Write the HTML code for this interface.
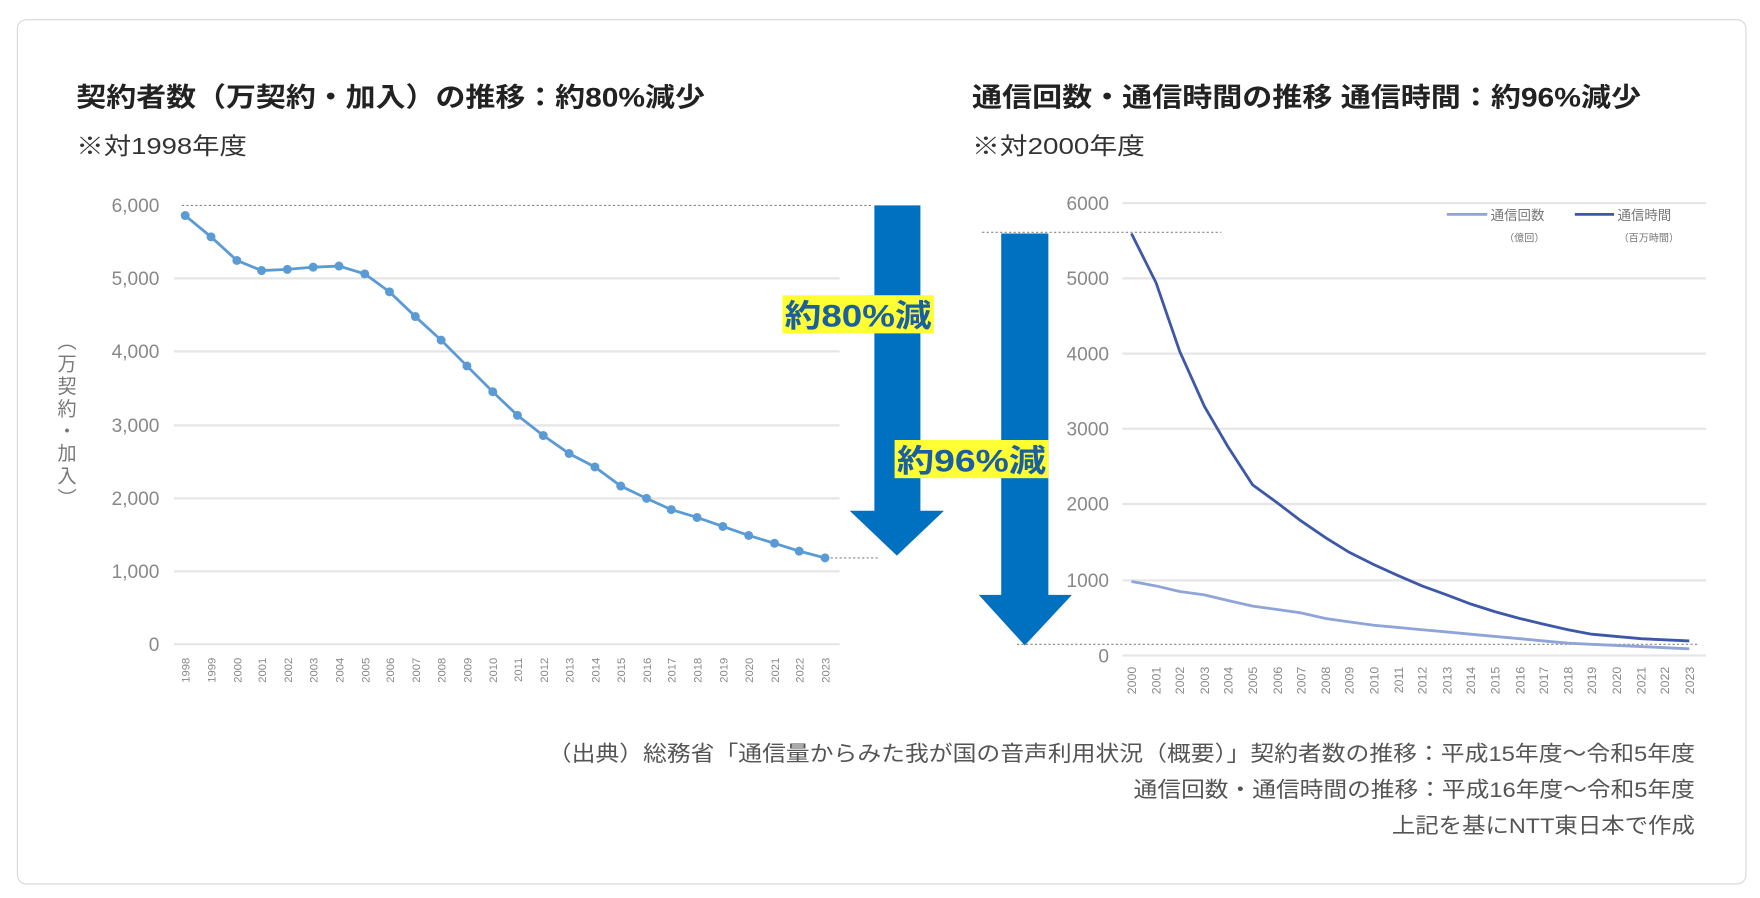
<!DOCTYPE html>
<html><head><meta charset="utf-8"><style>
body{margin:0;background:#fff;width:1760px;height:898px;overflow:hidden;font-family:"Liberation Sans","Noto Sans CJK JP",sans-serif}
</style></head><body>
<svg width="1760" height="898" viewBox="0 0 1568 800" xmlns="http://www.w3.org/2000/svg" style="position:absolute;left:0;top:0;font-family:'Liberation Sans','Noto Sans CJK JP',sans-serif">
<rect x="15.5" y="17.5" width="1540" height="770" rx="8" fill="#fff" stroke="#d8d8d8"/>
<text x="68" y="95" font-size="24" font-weight="bold" fill="#222" textLength="560" lengthAdjust="spacingAndGlyphs">契約者数（万契約・加入）の推移：約80%減少</text>
<text x="68" y="137" font-size="21" fill="#333" textLength="152" lengthAdjust="spacingAndGlyphs">※対1998年度</text>
<text x="866" y="95" font-size="24" font-weight="bold" fill="#222" textLength="596" lengthAdjust="spacingAndGlyphs">通信回数・通信時間の推移 通信時間：約96%減少</text>
<text x="866" y="137" font-size="21" fill="#333" textLength="154" lengthAdjust="spacingAndGlyphs">※対2000年度</text>

<g stroke="#e6e6e6" stroke-width="2">
<line x1="155" y1="248" x2="748" y2="248"/><line x1="155" y1="313" x2="748" y2="313"/><line x1="155" y1="379" x2="748" y2="379"/><line x1="155" y1="444" x2="748" y2="444"/><line x1="155" y1="509" x2="748" y2="509"/><line x1="155" y1="574" x2="748" y2="574"/>
</g>
<line x1="162" y1="183" x2="776" y2="183" stroke="#888" stroke-dasharray="2,2"/>
<line x1="740" y1="497" x2="782" y2="497" stroke="#888" stroke-dasharray="2,2"/>
<g font-size="17" fill="#888" text-anchor="end">
<text x="142" y="189">6,000</text><text x="142" y="254">5,000</text><text x="142" y="319">4,000</text><text x="142" y="385">3,000</text><text x="142" y="450">2,000</text><text x="142" y="515">1,000</text><text x="142" y="580">0</text>
</g>
<text x="58" y="295" font-size="17" fill="#777" letter-spacing="3" style="writing-mode:vertical-rl">（万契約・加入）</text>
<g font-size="10" fill="#888" text-anchor="end">
<text transform="translate(169,586) rotate(-90)">1998</text><text transform="translate(192,586) rotate(-90)">1999</text><text transform="translate(215,586) rotate(-90)">2000</text><text transform="translate(237,586) rotate(-90)">2001</text><text transform="translate(260,586) rotate(-90)">2002</text><text transform="translate(283,586) rotate(-90)">2003</text><text transform="translate(306,586) rotate(-90)">2004</text><text transform="translate(329,586) rotate(-90)">2005</text><text transform="translate(351,586) rotate(-90)">2006</text><text transform="translate(374,586) rotate(-90)">2007</text><text transform="translate(397,586) rotate(-90)">2008</text><text transform="translate(420,586) rotate(-90)">2009</text><text transform="translate(443,586) rotate(-90)">2010</text><text transform="translate(465,586) rotate(-90)">2011</text><text transform="translate(488,586) rotate(-90)">2012</text><text transform="translate(511,586) rotate(-90)">2013</text><text transform="translate(534,586) rotate(-90)">2014</text><text transform="translate(557,586) rotate(-90)">2015</text><text transform="translate(580,586) rotate(-90)">2016</text><text transform="translate(602,586) rotate(-90)">2017</text><text transform="translate(625,586) rotate(-90)">2018</text><text transform="translate(648,586) rotate(-90)">2019</text><text transform="translate(671,586) rotate(-90)">2020</text><text transform="translate(694,586) rotate(-90)">2021</text><text transform="translate(716,586) rotate(-90)">2022</text><text transform="translate(739,586) rotate(-90)">2023</text>
</g>
<polyline fill="none" stroke="#5b9bd5" stroke-width="2.5" points="165,192 188,211 211,232 233,241 256,240 279,238 302,237 325,244 347,260 370,282 393,303 416,326 439,349 461,370 484,388 507,404 530,416 553,433 576,444 598,454 621,461 644,469 667,477 690,484 712,491 735,497"/>
<g fill="#5b9bd5">
<circle cx="165" cy="192" r="4"/><circle cx="188" cy="211" r="4"/><circle cx="211" cy="232" r="4"/><circle cx="233" cy="241" r="4"/><circle cx="256" cy="240" r="4"/><circle cx="279" cy="238" r="4"/><circle cx="302" cy="237" r="4"/><circle cx="325" cy="244" r="4"/><circle cx="347" cy="260" r="4"/><circle cx="370" cy="282" r="4"/><circle cx="393" cy="303" r="4"/><circle cx="416" cy="326" r="4"/><circle cx="439" cy="349" r="4"/><circle cx="461" cy="370" r="4"/><circle cx="484" cy="388" r="4"/><circle cx="507" cy="404" r="4"/><circle cx="530" cy="416" r="4"/><circle cx="553" cy="433" r="4"/><circle cx="576" cy="444" r="4"/><circle cx="598" cy="454" r="4"/><circle cx="621" cy="461" r="4"/><circle cx="644" cy="469" r="4"/><circle cx="667" cy="477" r="4"/><circle cx="690" cy="484" r="4"/><circle cx="712" cy="491" r="4"/><circle cx="735" cy="497" r="4"/>
</g>

<g stroke="#e6e6e6" stroke-width="2">
<line x1="1000" y1="181" x2="1520" y2="181"/><line x1="1000" y1="248" x2="1520" y2="248"/><line x1="1000" y1="315" x2="1520" y2="315"/><line x1="1000" y1="382" x2="1520" y2="382"/><line x1="1000" y1="449" x2="1520" y2="449"/><line x1="1000" y1="517" x2="1520" y2="517"/><line x1="1000" y1="584" x2="1520" y2="584"/>
</g>
<line x1="875" y1="207" x2="1088" y2="207" stroke="#888" stroke-dasharray="2,2"/>
<line x1="906" y1="574" x2="1512" y2="574" stroke="#888" stroke-dasharray="2,2"/>
<g font-size="17" fill="#888" text-anchor="end">
<text x="988" y="187">6000</text><text x="988" y="254">5000</text><text x="988" y="321">4000</text><text x="988" y="388">3000</text><text x="988" y="455">2000</text><text x="988" y="523">1000</text><text x="988" y="590">0</text>
</g>
<g font-size="11" fill="#888" text-anchor="end">
<text transform="translate(1012,594) rotate(-90)">2000</text><text transform="translate(1034,594) rotate(-90)">2001</text><text transform="translate(1055,594) rotate(-90)">2002</text><text transform="translate(1077,594) rotate(-90)">2003</text><text transform="translate(1098,594) rotate(-90)">2004</text><text transform="translate(1120,594) rotate(-90)">2005</text><text transform="translate(1142,594) rotate(-90)">2006</text><text transform="translate(1163,594) rotate(-90)">2007</text><text transform="translate(1185,594) rotate(-90)">2008</text><text transform="translate(1206,594) rotate(-90)">2009</text><text transform="translate(1228,594) rotate(-90)">2010</text><text transform="translate(1250,594) rotate(-90)">2011</text><text transform="translate(1271,594) rotate(-90)">2012</text><text transform="translate(1293,594) rotate(-90)">2013</text><text transform="translate(1314,594) rotate(-90)">2014</text><text transform="translate(1336,594) rotate(-90)">2015</text><text transform="translate(1358,594) rotate(-90)">2016</text><text transform="translate(1379,594) rotate(-90)">2017</text><text transform="translate(1401,594) rotate(-90)">2018</text><text transform="translate(1422,594) rotate(-90)">2019</text><text transform="translate(1444,594) rotate(-90)">2020</text><text transform="translate(1466,594) rotate(-90)">2021</text><text transform="translate(1487,594) rotate(-90)">2022</text><text transform="translate(1509,594) rotate(-90)">2023</text>
</g>
<polyline fill="none" stroke="#8fa4d8" stroke-width="2.5" points="1008,518 1030,522 1051,527 1073,530 1094,535 1116,540 1138,543 1159,546 1181,551 1202,554 1224,557 1246,559 1267,561 1289,563 1310,565 1332,567 1354,569 1375,571 1397,573 1418,574 1440,575 1462,576 1483,577 1505,578"/>
<polyline fill="none" stroke="#3e58a8" stroke-width="2.5" points="1008,208 1030,252 1051,313 1073,362 1094,398 1116,432 1138,448 1159,464 1181,479 1202,492 1224,503 1246,513 1267,522 1289,530 1310,538 1332,545 1354,551 1375,556 1397,561 1418,565 1440,567 1462,569 1483,570 1505,571"/>
<line x1="1289" y1="191" x2="1325" y2="191" stroke="#8fa4d8" stroke-width="2.5"/>
<text x="1328" y="196" font-size="12" fill="#777">通信回数</text>
<text x="1340" y="215" font-size="9" fill="#777">（億回）</text>
<line x1="1403" y1="191" x2="1438" y2="191" stroke="#3e58a8" stroke-width="2.5"/>
<text x="1441" y="196" font-size="12" fill="#777">通信時間</text>
<text x="1442" y="215" font-size="9" fill="#777">（百万時間）</text>

<polygon fill="#0070c0" points="779,183 820,183 820,455 841,455 799,495 757,455 779,455"/>
<polygon fill="#0070c0" points="892,208 934,208 934,530 955,530 913,575 872,530 892,530"/>
<rect x="697" y="263" width="135" height="34" fill="#ffff33"/>
<text x="699" y="291" font-size="28" font-weight="bold" fill="#1a5fa0" textLength="131" lengthAdjust="spacingAndGlyphs">約80%減</text>
<rect x="797" y="392" width="137" height="34" fill="#ffff33"/>
<text x="799" y="420" font-size="28" font-weight="bold" fill="#1a5fa0" textLength="133" lengthAdjust="spacingAndGlyphs">約96%減</text>

<g font-size="19" fill="#555" text-anchor="end">
<text x="1510" y="678" textLength="1022" lengthAdjust="spacingAndGlyphs">（出典）総務省「通信量からみた我が国の音声利用状況（概要）」契約者数の推移：平成15年度～令和5年度</text>
<text x="1510" y="710" textLength="500" lengthAdjust="spacingAndGlyphs">通信回数・通信時間の推移：平成16年度～令和5年度</text>
<text x="1510" y="742" textLength="270" lengthAdjust="spacingAndGlyphs">上記を基にNTT東日本で作成</text>
</g>
</svg>
</body></html>
